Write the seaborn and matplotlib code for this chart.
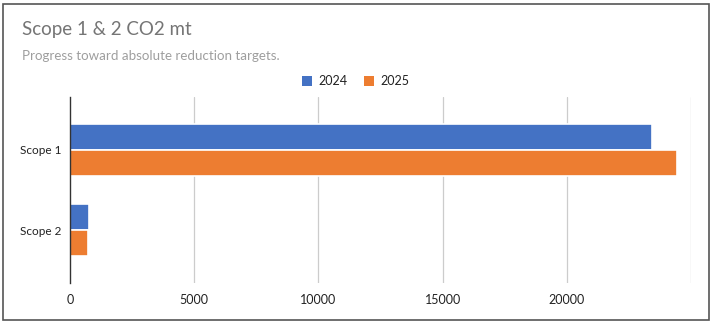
import matplotlib
matplotlib.use("Agg")
import matplotlib.pyplot as plt
import seaborn as sns
import pandas as pd
from matplotlib.patches import Rectangle

categories = ["Scope 1", "Scope 2"]
years = ["2024", "2025"]
values_2024 = [23450, 750]
values_2025 = [24430, 710]
x_ticks = [0, 5000, 10000, 15000, 20000]
colors = ["#4472C4", "#ED7D31"]

df = pd.DataFrame({
    "scope": categories * 2,
    "year": [years[0]] * 2 + [years[1]] * 2,
    "co2": values_2024 + values_2025,
})

sns.set_style("white")
plt.rcParams["font.family"] = ["Lato", "DejaVu Sans"]

fig = plt.figure(figsize=(7.14, 3.23), dpi=100)
ax = fig.add_axes([70 / 714, 1 - 283 / 323, 621 / 714, 186 / 323])

sns.barplot(data=df, y="scope", x="co2", hue="year", orient="h",
            palette=colors, saturation=1, width=0.64, ax=ax, legend=False,
            edgecolor="white", linewidth=1.2)

ax.set_xlim(0, 25000)
ax.set_ylim(1.66, -0.66)
ax.set_xticks(x_ticks)
ax.set_xticklabels([f"{t}" for t in x_ticks], fontsize=9, color="#222222")
ax.tick_params(axis="y", labelsize=8.5, labelcolor="#222222", length=0, pad=6)
ax.tick_params(axis="x", length=0, pad=8)
ax.set_xlabel("")
ax.set_ylabel("")
for gx in [5000, 10000, 15000, 20000, 25000]:
    ax.axvline(gx, color="#cccccc", linewidth=0.9, zorder=0)
for s in ["top", "right", "bottom"]:
    ax.spines[s].set_visible(False)
ax.spines["left"].set_color("#333333")
ax.spines["left"].set_linewidth(1.0)

# Outer frame
fig.patches.append(Rectangle((3 / 714, 3 / 323), 706 / 714, 316 / 323,
                             transform=fig.transFigure, fill=False,
                             edgecolor="#555555", linewidth=1.2))

fig.text(22 / 714, 1 - 30 / 323, "Scope 1 & 2 CO2 mt", fontsize=13.5,
         color="#757575", va="center", ha="left")
fig.text(22 / 714, 1 - 56 / 323, "Progress toward absolute reduction targets.",
         fontsize=9.6, color="#9e9e9e", va="center", ha="left")

# Legend
ly = 1 - 81 / 323
for x0, lab, c in [(302, years[0], colors[0]), (364, years[1], colors[1])]:
    fig.patches.append(Rectangle((x0 / 714, ly - 5 / 323), 10 / 714, 10 / 323,
                                 transform=fig.transFigure, facecolor=c,
                                 edgecolor="none"))
    fig.text((x0 + 16) / 714, ly, lab, fontsize=9, color="#222222",
             va="center", ha="left")

fig.savefig("out.png", dpi=100)
